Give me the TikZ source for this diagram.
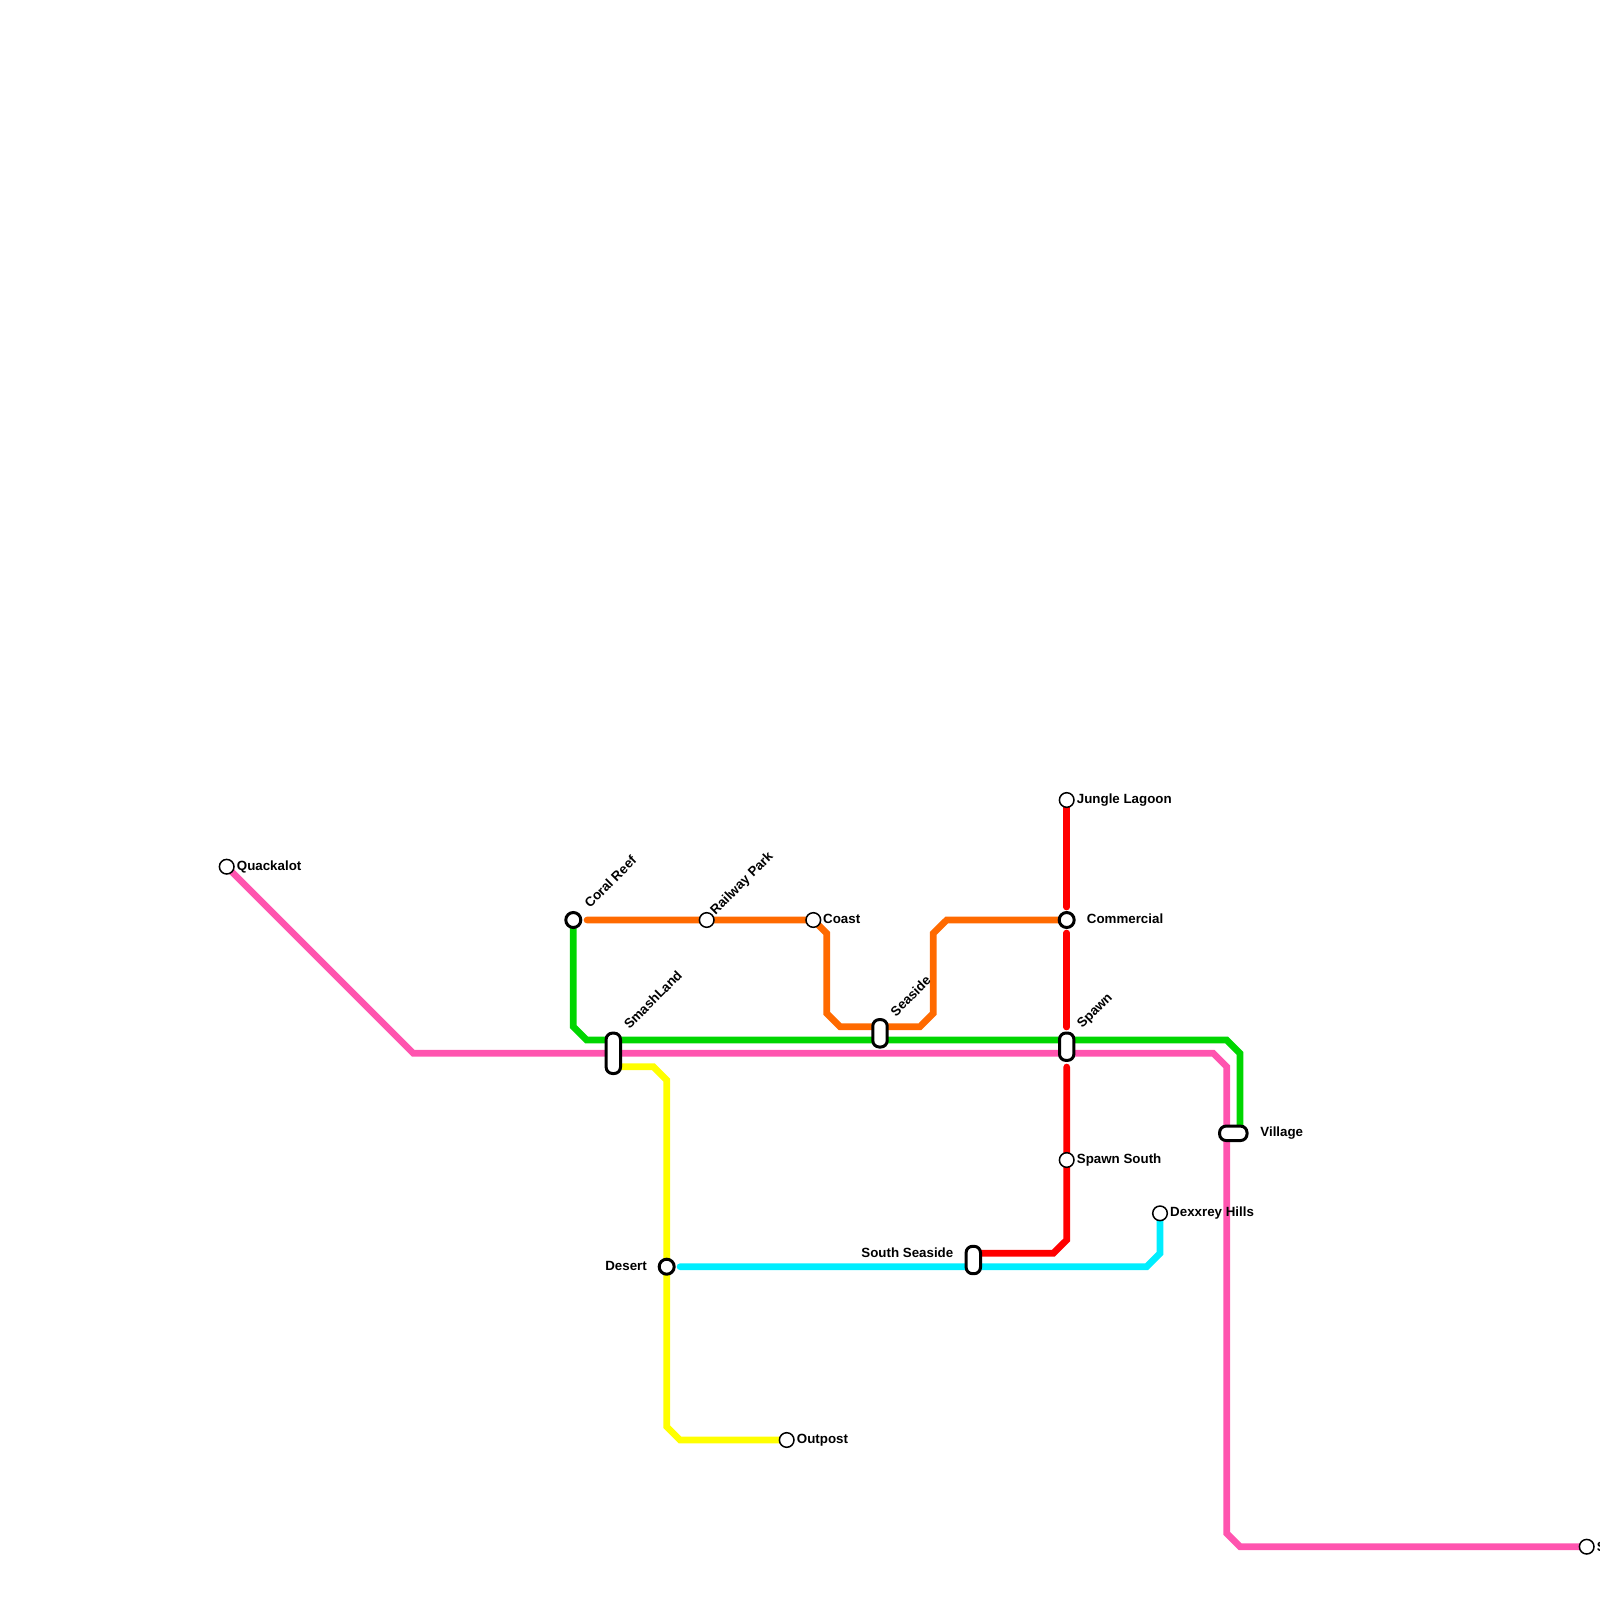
\documentclass[tikz,border=0pt]{standalone}
\usepackage{fontspec}
\setmainfont{Liberation Sans}
\usetikzlibrary{backgrounds}
\tikzset{
  metro/.style={line width=6.67pt,line join=miter,line cap=butt},
  pinkline/.style={metro,draw={rgb,255:red,255;green,84;blue,175}},
  greenline/.style={metro,draw={rgb,255:red,0;green,214;blue,0}},
  orangeline/.style={metro,draw={rgb,255:red,255;green,106;blue,0}},
  redline/.style={metro,draw={rgb,255:red,255;green,0;blue,0}},
  cyanline/.style={metro,draw={rgb,255:red,0;green,238;blue,255}},
  yellowline/.style={metro,draw={rgb,255:red,255;green,255;blue,0}},
  stop/.style={circle,draw=black,fill=white,line width=1.5pt,minimum size=14.6pt,inner sep=0pt},
  hub/.style={circle,draw=black,fill=white,line width=3pt,minimum size=15pt,inner sep=0pt},
  pill/.style={rectangle,rounded corners=6.4pt,draw=black,fill=white,line width=3pt,inner sep=0pt},
  lab/.style={font=\bfseries\fontsize{13.33}{15}\selectfont,text=black,inner sep=0pt,anchor=base west},
  labr/.style={lab,anchor=base east},
  labd/.style={font=\bfseries\fontsize{13.33}{15}\selectfont,text=black,inner sep=0pt,anchor=west,rotate=45}
}
\begin{document}
\begin{tikzpicture}[x=1pt,y=-1pt]
\useasboundingbox (0,0) rectangle (1600,1600);
% stations
\node[stop] (quackalot) at (226.7,866.7) {};
\node[hub] (coral) at (573.3,920) {};
\node[stop] (railway) at (706.7,920) {};
\node[stop] (coast) at (813.3,920) {};
\node[stop] (jungle) at (1066.7,800) {};
\node[hub] (commercial) at (1066.7,920) {};
\node[stop] (spawnsouth) at (1066.7,1160) {};
\node[stop] (dexxrey) at (1160,1213.3) {};
\node[hub] (desert) at (666.7,1266.7) {};
\node[stop] (outpost) at (786.7,1440) {};
\node[stop] (last) at (1586.7,1546.7) {};
\node[pill,minimum width=14.4pt,minimum height=40.4pt] (smash) at (613.3,1053.3) {};
\node[pill,minimum width=14.4pt,minimum height=27.4pt] (seaside) at (880,1033.3) {};
\node[pill,minimum width=14.4pt,minimum height=27.4pt] (spawn) at (1066.7,1046.7) {};
\node[pill,minimum width=14.4pt,minimum height=27.4pt] (sseaside) at (973.3,1260) {};
\node[pill,minimum width=27.4pt,minimum height=14.4pt] (village) at (1233.3,1133.3) {};
% free ends of the gapped runs
\coordinate (orangeA) at (587,920);
\coordinate (redA) at (1066.7,907);
\coordinate (redB) at (1066.7,933);
\coordinate (redC) at (1066.7,1027);
\coordinate (redD) at (1066.7,1067);
\coordinate (cyanA) at (680,1266.7);
\begin{pgfonlayer}{background}
\draw[yellowline] (smash.center |- 0,1066.7) -- (653.3,1066.7) -- (666.7,1080) -- (desert.center) -- (666.7,1426.7) -- (680,1440) -- (outpost.center);
\draw[greenline] (coral.center) -- (573.3,1026.7) -- (586.7,1040) -- (1226.7,1040) -- (1240,1053.3) -- (1240,1133.3);
\draw[orangeline,line cap=round] (orangeA) -- (railway.center) -- (coast.center) -- (826.7,933.3) -- (826.7,1013.3) -- (840,1026.7) -- (920,1026.7) -- (933.3,1013.3) -- (933.3,933.3) -- (946.7,920) -- (commercial.center);
\draw[pinkline] (quackalot.center) -- (413.3,1053.3) -- (1213.3,1053.3) -- (1226.7,1066.7) -- (1226.7,1533.3) -- (1240,1546.7) -- (last.center);
\draw[redline,line cap=round] (jungle.center) -- (redA);
\draw[redline,line cap=round] (redB) -- (redC);
\draw[redline,line cap=round] (redD) -- (spawnsouth.center) -- (1066.7,1240) -- (1053.3,1253.3) -- (sseaside.center |- 0,1253.3);
\draw[cyanline,line cap=round] (cyanA) -- (1146.7,1266.7) -- (1160,1253.3) -- (dexxrey.center);
\end{pgfonlayer}
% labels
\node[lab] (t1) at (236.7,870.3) {Quackalot};
\node[lab] (t2) at (823,923.7) {Coast};
\node[lab] (t3) at (1076.7,803.3) {Jungle Lagoon};
\node[lab] (t4) at (1086.7,923.7) {Commercial};
\node[lab] (t5) at (1076.7,1163.7) {Spawn South};
\node[lab] (t6) at (1170,1216.5) {Dexxrey Hills};
\node[lab] (t7) at (1260.2,1136.3) {Village};
\node[lab] (t8) at (796.7,1443.5) {Outpost};
\node[lab] (t9) at (1596.7,1551) {S};
\node[labr] (t10) at (953.5,1257) {South Seaside};
\node[labr] (t11) at (647,1270.3) {Desert};
\node[labd] (t12) at (586.5,905.5) {Coral Reef};
\node[labd] (t13) at (713,913) {Railway Park};
\node[labd] (t14) at (626,1026.5) {SmashLand};
\node[labd] (t15) at (892.5,1014) {Seaside};
\node[labd] (t16) at (1080,1026.5) {Spawn};
\end{tikzpicture}
\end{document}
